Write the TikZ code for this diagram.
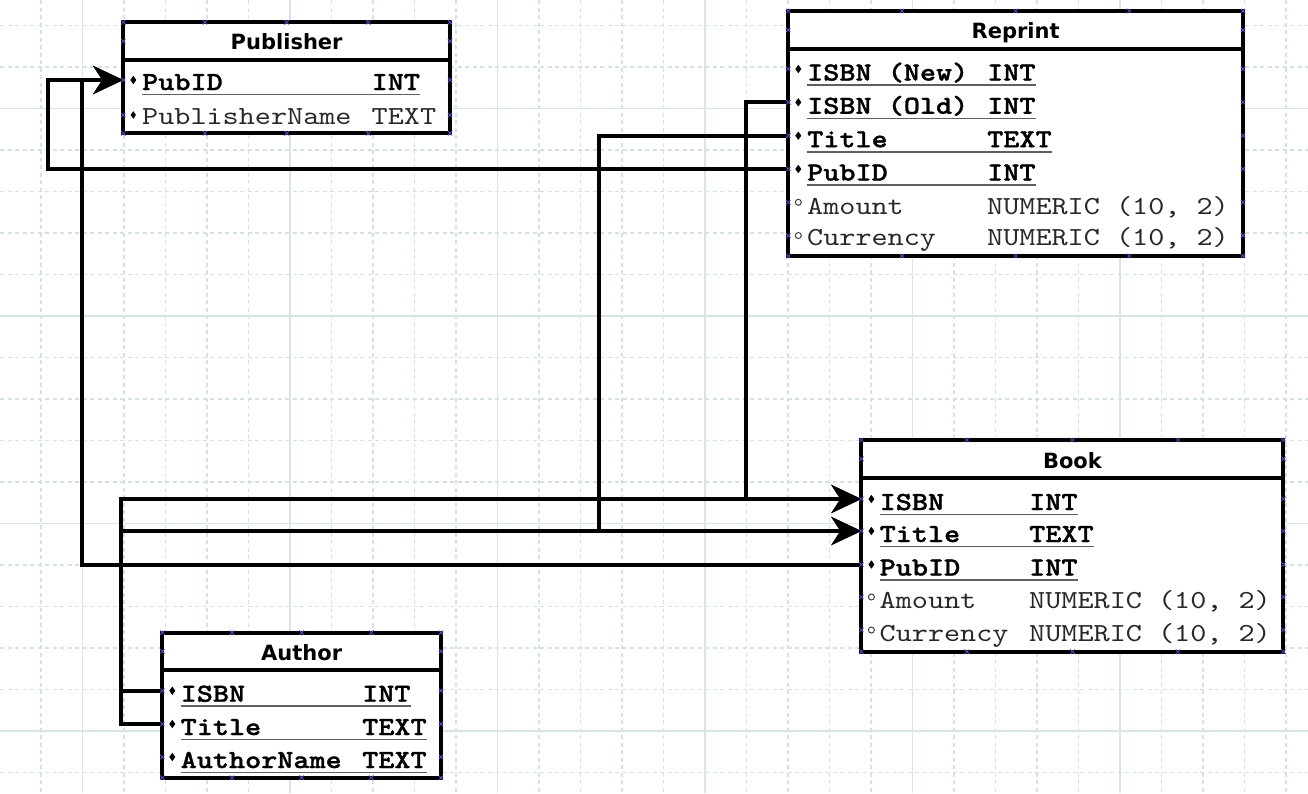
\documentclass[tikz,border=0pt]{standalone}
\usepackage{fontspec}
\newfontfamily\monof{lmmono10-regular.otf}[BoldFont=lmmonolt10-bold.otf,FakeStretch=1.18,BoldFeatures={FakeBold=1.2}]
\newfontfamily\ttlf{DejaVu Sans}
\usetikzlibrary{arrows.meta}

\definecolor{gridc}{RGB}{212,226,226}
\definecolor{gridm}{RGB}{216,229,229}
\definecolor{ulc}{RGB}{95,95,95}
\definecolor{txtc}{RGB}{40,40,40}
\definecolor{bxc}{RGB}{80,80,200}

\newcommand\mfont{\monof\fontsize{26pt}{30pt}\selectfont}
\newcommand\tfont{\ttlf\bfseries\fontsize{21pt}{24pt}\selectfont}

\tikzset{
  gridminor/.style={draw=gridc,line width=1.2pt,dash pattern=on 4pt off 3.5pt},
  gridmajor/.style={draw=gridm,line width=1.5pt},
  tbl/.style={draw=black,fill=white,line width=4pt,inner sep=0pt,outer sep=0pt,rectangle},
  sepline/.style={draw=black,line width=4pt},
  ttl/.style={font=\tfont,inner sep=0pt,anchor=base,text=black},
  keytxt/.style={font=\mfont\bfseries,inner sep=0pt,anchor=base west,text=black},
  regtxt/.style={font=\mfont,inner sep=0pt,anchor=base west,text=txtc},
  uline/.style={draw=ulc,line width=1.6pt},
  conn/.style={draw=black,line width=4pt},
  arr/.style={-{Stealth[length=30pt,width=28pt,inset=9pt]}},
  bxm/.style={draw=bxc,line width=0.8pt},
  dmark/.style={fill=black},
  cmark/.style={draw=black!75,line width=1pt},
}

% key row: id, L, r, baseline, name x, type x, name, type
\newcommand\krow[8]{%
  \coordinate (#1) at (#2,#3);
  \node[keytxt] (#1-n) at (#5,#4) {#7};
  \node[keytxt] (#1-t) at (#6,#4) {#8};
  \draw[uline] ([yshift=-4.5pt]#1-n.base west) -- ([yshift=-4.5pt]#1-t.base east);
  \fill[dmark] ({#2+10},{#3-4.2}) -- ({#2+13},{#3}) -- ({#2+10},{#3+4.2}) -- ({#2+7},{#3}) -- cycle;
}
% plain row with diamond
\newcommand\drow[8]{%
  \coordinate (#1) at (#2,#3);
  \node[regtxt] (#1-n) at (#5,#4) {#7};
  \node[regtxt] (#1-t) at (#6,#4) {#8};
  \fill[dmark] ({#2+10},{#3-3.8}) -- ({#2+12.6},{#3}) -- ({#2+10},{#3+3.8}) -- ({#2+7.4},{#3}) -- cycle;
}
% plain row with circle
\newcommand\crow[8]{%
  \coordinate (#1) at (#2,#3);
  \node[regtxt] (#1-n) at (#5,#4) {#7};
  \node[regtxt] (#1-t) at (#6,#4) {#8};
  \draw[cmark] ({#2+10},{#3}) circle (3pt);
}
\newcommand\bxx[2]{\draw[bxm] ({#1-2.2},{#2-2.2}) -- ({#1+2.2},{#2+2.2}) ({#1-2.2},{#2+2.2}) -- ({#1+2.2},{#2-2.2});}
% markers: L T R B headermid rowlist
\newcommand\tmarks[6]{%
  \foreach \i in {0,...,4}{\pgfmathsetmacro\xx{#1+\i*(#3-#1)/4}\bxx{\xx}{#2}\bxx{\xx}{#4}}
  \foreach \yy in {#5,#6}{\bxx{#1}{\yy}\bxx{#3}{\yy}}
}

\begin{document}
\begin{tikzpicture}[x=1pt,y=-1pt]
\useasboundingbox (0,0) rectangle (1308,793);
\fill[white] (0,0) rectangle (1308,793);

% grid
\foreach \k in {-1,...,30}{\pgfmathsetmacro\gx{41+41.5*\k}\draw[gridminor] (\gx,0) -- (\gx,793);}
\foreach \k in {0,...,18}{\pgfmathsetmacro\gy{25.5+41.5*\k}\draw[gridminor] (0,\gy) -- (1308,\gy);}
\foreach \gx in {82.5,290,497.5,705,912.5,1120}{\draw[gridmajor] (\gx,0) -- (\gx,793);}
\foreach \gy in {108.5,316,523.5,731}{\draw[gridmajor] (0,\gy) -- (1308,\gy);}

% Publisher
\node[tbl,minimum width=326.7pt,minimum height=111pt] (pub) at (286.65,77.8) {};
\draw[sepline] (123.3,60) -- (450,60);
\node[ttl] (pub-ttl) at (286.65,49) {Publisher};
\krow{pub-pubid}{123.3}{80}{90}{142}{371.5}{PubID}{INT}
\drow{pub-name}{123.3}{115}{124}{142}{371.5}{PublisherName}{TEXT}

% Reprint
\node[tbl,minimum width=454.7pt,minimum height=245pt] (rp) at (1015.65,133.5) {};
\draw[sepline] (788.3,49) -- (1243,49);
\node[ttl] (rp-ttl) at (1015.65,38.5) {Reprint};
\krow{rp-isbnnew}{788.3}{69}{80.5}{807}{987}{ISBN (New)}{INT}
\krow{rp-isbnold}{788.3}{102.3}{113.8}{807}{987}{ISBN (Old)}{INT}
\krow{rp-title}{788.3}{135.7}{147.2}{807}{987}{Title}{TEXT}
\krow{rp-pubid}{788.3}{169}{180.5}{807}{987}{PubID}{INT}
\crow{rp-amount}{788.3}{202.3}{214}{807}{987}{Amount}{NUMERIC (10, 2)}
\crow{rp-curr}{788.3}{235.5}{245.5}{807}{987}{Currency}{NUMERIC (10, 2)}

% Book
\node[tbl,minimum width=422pt,minimum height=211.7pt] (bk) at (1072.4,545.85) {};
\draw[sepline] (861.4,477.7) -- (1283.4,477.7);
\node[ttl] (bk-ttl) at (1072.4,468) {Book};
\krow{bk-isbn}{861.4}{499}{510}{879.5}{1029}{ISBN}{INT}
\krow{bk-title}{861.4}{531}{542}{879.5}{1029}{Title}{TEXT}
\krow{bk-pubid}{861.4}{564.5}{575.5}{879.5}{1029}{PubID}{INT}
\crow{bk-amount}{861.4}{597}{608}{879.5}{1029}{Amount}{NUMERIC (10, 2)}
\crow{bk-curr}{861.4}{630}{641}{879.5}{1029}{Currency}{NUMERIC (10, 2)}

% Author
\node[tbl,minimum width=278.7pt,minimum height=145pt] (au) at (301.65,705.2) {};
\draw[sepline] (162.3,670) -- (441,670);
\node[ttl] (au-ttl) at (301.65,660.5) {Author};
\krow{au-isbn}{162.3}{690.7}{701.7}{180.5}{362}{ISBN}{INT}
\krow{au-title}{162.3}{724}{735}{180.5}{362}{Title}{TEXT}
\krow{au-name}{162.3}{757}{768}{180.5}{362}{AuthorName}{TEXT}

% bend coordinates
\coordinate (xa) at (48,0);
\coordinate (xb) at (82,0);
\coordinate (xc) at (121,0);
\coordinate (xd) at (599.3,0);
\coordinate (xe) at (745.7,0);

% connectors
\draw[conn,arr] (rp-pubid) -| (xa |- pub-pubid) -- (pub-pubid);
\draw[conn,arr] (bk-pubid) -| (xb |- pub-pubid) -- (pub-pubid);
\draw[conn,arr] (rp-isbnold) -| (xe |- bk-isbn) -- (bk-isbn);
\draw[conn,arr] (rp-title) -| (xd |- bk-title) -- (bk-title);
\draw[conn,arr] (au-isbn) -| (xc |- bk-isbn) -- (bk-isbn);
\draw[conn,arr] (au-title) -| (xc |- bk-title) -- (bk-title);

% connection point markers
\tmarks{123.3}{22.3}{450}{133.3}{41.2}{80,115}
\tmarks{788.3}{11}{1243}{256}{30}{69,102.3,135.7,169,202.3,235.5}
\tmarks{861.4}{440}{1283.4}{651.7}{458.8}{499,531,564.5,597,630}
\tmarks{162.3}{632.7}{441}{777.7}{651.3}{690.7,724,757}
\end{tikzpicture}
\end{document}
